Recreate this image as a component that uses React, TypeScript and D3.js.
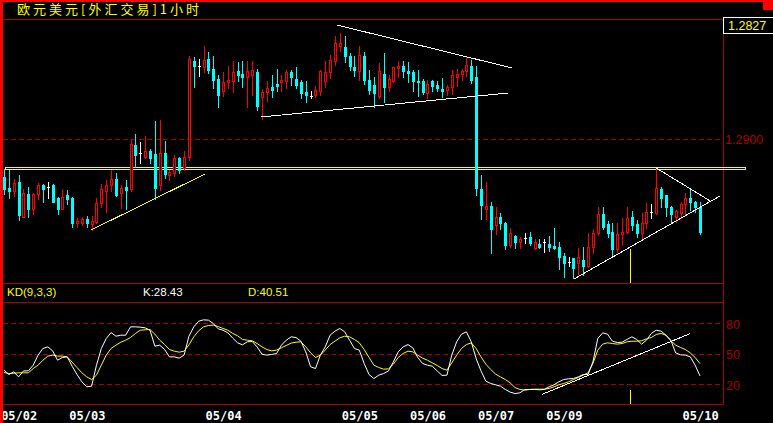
import React from "react";
import * as d3 from "d3";

const W = 773;
const H = 423;

const title = "欧元美元[外汇交易]1小时";
const lastPriceLabel = "1.2827";

// hourly candles
const openP = [
  1.2862, 1.2851, 1.2848, 1.2857, 1.2822, 1.2845, 1.2830, 1.2845, 1.2854, 1.2852,
  1.2854, 1.2841, 1.2830, 1.2844, 1.2841, 1.2816, 1.2816, 1.2820, 1.2815, 1.2817,
  1.2836, 1.2848, 1.2854, 1.2860, 1.2846, 1.2852, 1.2850, 1.2894, 1.2886, 1.2882,
  1.2888, 1.2885, 1.2854, 1.2886, 1.2864, 1.2866, 1.2881, 1.2871, 1.2882, 1.2978,
  1.2973, 1.2972, 1.2980, 1.2970, 1.2960, 1.2948, 1.2957, 1.2958, 1.2968, 1.2965,
  1.2962, 1.2964, 1.2967, 1.2942, 1.2947, 1.2952, 1.2955, 1.2957, 1.2958, 1.2967,
  1.2960, 1.2957, 1.2947, 1.2943, 1.2944, 1.2948, 1.2958, 1.2967, 1.2978, 1.2993,
  1.2992, 1.2983, 1.2972, 1.2968, 1.2983, 1.2959, 1.2954, 1.2943, 1.2965, 1.2952,
  1.2958, 1.2971, 1.2973, 1.2968, 1.2967, 1.2958, 1.2958, 1.2946, 1.2958, 1.2954,
  1.2950, 1.2949, 1.2952, 1.2962, 1.2965, 1.2968, 1.2973, 1.2962, 1.2850, 1.2830,
  1.2833, 1.2814, 1.2822, 1.2816, 1.2794, 1.2803, 1.2797, 1.2801, 1.2802, 1.2791,
  1.2795, 1.2797, 1.2795, 1.2793, 1.2792, 1.2783, 1.2777, 1.2781, 1.2776, 1.2779,
  1.2773, 1.2792, 1.2806, 1.2825, 1.2815, 1.2807, 1.2790, 1.2805, 1.2807, 1.2822,
  1.2815, 1.2806, 1.2816, 1.2827, 1.2826, 1.2850, 1.2844, 1.2832, 1.2822, 1.2826,
  1.2835, 1.2841, 1.2837, 1.2832,
];
const highP = [
  1.2870, 1.2869, 1.2860, 1.2864, 1.2850, 1.2852, 1.2846, 1.2856, 1.2855, 1.2857,
  1.2855, 1.2842, 1.2850, 1.2849, 1.2842, 1.2821, 1.2822, 1.2823, 1.2823, 1.2841,
  1.2855, 1.2859, 1.2869, 1.2866, 1.2854, 1.2859, 1.2900, 1.2905, 1.2897, 1.2903,
  1.2890, 1.2918, 1.2919, 1.2898, 1.2869, 1.2884, 1.2882, 1.2888, 1.2983, 1.2982,
  1.2980, 1.2993, 1.2987, 1.2983, 1.2964, 1.2967, 1.2973, 1.2978, 1.2977, 1.2978,
  1.2978, 1.2978, 1.2970, 1.2950, 1.2958, 1.2964, 1.2970, 1.2964, 1.2969, 1.2969,
  1.2972, 1.2959, 1.2958, 1.2948, 1.2953, 1.2969, 1.2978, 1.2984, 1.3003, 1.3006,
  1.3003, 1.2986, 1.2983, 1.2993, 1.2987, 1.2969, 1.2962, 1.2976, 1.2986, 1.2964,
  1.2972, 1.2978, 1.2978, 1.2977, 1.2969, 1.2969, 1.2960, 1.2959, 1.2959, 1.2958,
  1.2961, 1.2954, 1.2969, 1.2970, 1.2970, 1.2982, 1.2979, 1.2973, 1.2864, 1.2857,
  1.2837, 1.2832, 1.2826, 1.2817, 1.2811, 1.2804, 1.2802, 1.2806, 1.2807, 1.2800,
  1.2800, 1.2800, 1.2803, 1.2811, 1.2797, 1.2786, 1.2782, 1.2781, 1.2791, 1.2792,
  1.2806, 1.2810, 1.2832, 1.2832, 1.2818, 1.2816, 1.2816, 1.2821, 1.2832, 1.2828,
  1.2819, 1.2826, 1.2836, 1.2835, 1.2871, 1.2852, 1.2844, 1.2833, 1.2829, 1.2837,
  1.2846, 1.2850, 1.2838, 1.2837,
];
const lowP = [
  1.2845, 1.2841, 1.2843, 1.2819, 1.2822, 1.2822, 1.2825, 1.2840, 1.2837, 1.2841,
  1.2837, 1.2825, 1.2830, 1.2835, 1.2812, 1.2812, 1.2814, 1.2812, 1.2809, 1.2816,
  1.2832, 1.2827, 1.2848, 1.2843, 1.2831, 1.2830, 1.2848, 1.2872, 1.2876, 1.2881,
  1.2876, 1.2840, 1.2849, 1.2861, 1.2859, 1.2863, 1.2866, 1.2869, 1.2879, 1.2952,
  1.2963, 1.2967, 1.2966, 1.2951, 1.2932, 1.2943, 1.2951, 1.2947, 1.2958, 1.2952,
  1.2932, 1.2944, 1.2929, 1.2920, 1.2938, 1.2942, 1.2948, 1.2948, 1.2951, 1.2954,
  1.2951, 1.2941, 1.2937, 1.2941, 1.2942, 1.2944, 1.2952, 1.2961, 1.2974, 1.2988,
  1.2977, 1.2969, 1.2963, 1.2959, 1.2955, 1.2945, 1.2932, 1.2941, 1.2937, 1.2948,
  1.2957, 1.2962, 1.2962, 1.2957, 1.2948, 1.2943, 1.2945, 1.2941, 1.2948, 1.2948,
  1.2942, 1.2944, 1.2945, 1.2953, 1.2959, 1.2963, 1.2956, 1.2844, 1.2820, 1.2820,
  1.2786, 1.2805, 1.2810, 1.2790, 1.2792, 1.2791, 1.2791, 1.2796, 1.2794, 1.2790,
  1.2791, 1.2787, 1.2788, 1.2790, 1.2770, 1.2762, 1.2773, 1.2761, 1.2765, 1.2764,
  1.2772, 1.2786, 1.2804, 1.2810, 1.2802, 1.2782, 1.2787, 1.2794, 1.2806, 1.2809,
  1.2802, 1.2799, 1.2811, 1.2821, 1.2825, 1.2832, 1.2823, 1.2817, 1.2817, 1.2821,
  1.2825, 1.2829, 1.2827, 1.2805,
];
const closeP = [
  1.2850, 1.2848, 1.2856, 1.2824, 1.2846, 1.2830, 1.2845, 1.2854, 1.2850, 1.2852,
  1.2837, 1.2830, 1.2842, 1.2840, 1.2816, 1.2818, 1.2820, 1.2816, 1.2818, 1.2836,
  1.2850, 1.2854, 1.2860, 1.2844, 1.2851, 1.2849, 1.2895, 1.2884, 1.2886, 1.2888,
  1.2881, 1.2851, 1.2886, 1.2865, 1.2867, 1.2881, 1.2869, 1.2882, 1.2980, 1.2973,
  1.2973, 1.2979, 1.2969, 1.2959, 1.2944, 1.2957, 1.2959, 1.2967, 1.2964, 1.2962,
  1.2968, 1.2969, 1.2933, 1.2947, 1.2951, 1.2949, 1.2953, 1.2959, 1.2967, 1.2962,
  1.2954, 1.2946, 1.2944, 1.2943, 1.2949, 1.2968, 1.2967, 1.2979, 1.2996, 1.2996,
  1.2983, 1.2973, 1.2969, 1.2984, 1.2959, 1.2949, 1.2946, 1.2968, 1.2952, 1.2960,
  1.2972, 1.2973, 1.2968, 1.2966, 1.2958, 1.2957, 1.2947, 1.2955, 1.2953, 1.2951,
  1.2948, 1.2952, 1.2964, 1.2965, 1.2968, 1.2974, 1.2959, 1.2851, 1.2834, 1.2833,
  1.2810, 1.2822, 1.2816, 1.2794, 1.2806, 1.2797, 1.2800, 1.2801, 1.2796, 1.2797,
  1.2792, 1.2797, 1.2792, 1.2791, 1.2782, 1.2776, 1.2777, 1.2771, 1.2782, 1.2773,
  1.2792, 1.2806, 1.2825, 1.2812, 1.2806, 1.2790, 1.2805, 1.2807, 1.2821, 1.2814,
  1.2806, 1.2816, 1.2827, 1.2827, 1.2851, 1.2841, 1.2832, 1.2825, 1.2828, 1.2835,
  1.2841, 1.2837, 1.2832, 1.2807,
];

// KD(9,3,3)
const kValues = [
  34.1, 29.8, 32.5, 27.5, 33.4, 33.4, 39.0, 48.9, 55.4, 57.0,
  53.1, 43.9, 46.6, 47.2, 38.0, 29.8, 22.6, 17.7, 18.4, 39.0,
  55.4, 65.2, 71.1, 67.5, 68.5, 68.5, 76.7, 76.7, 76.4, 75.7,
  73.4, 57.7, 58.7, 54.4, 47.2, 47.2, 45.9, 48.9, 67.5, 76.7,
  82.3, 83.6, 83.3, 80.0, 74.8, 73.4, 70.8, 65.6, 61.0, 59.0,
  62.0, 62.3, 57.0, 49.8, 48.9, 49.5, 50.5, 58.7, 63.6, 66.9,
  66.2, 62.6, 52.1, 37.4, 35.7, 48.9, 57.0, 68.5, 72.5, 75.1,
  71.8, 63.6, 55.4, 53.8, 40.7, 29.8, 25.9, 29.2, 30.8, 33.4,
  42.3, 52.1, 57.0, 59.3, 56.0, 46.6, 40.7, 39.0, 38.0, 33.4,
  28.9, 29.2, 48.9, 62.0, 69.5, 71.8, 62.0, 45.6, 33.4, 23.3,
  21.0, 19.7, 18.4, 15.1, 12.5, 11.1, 11.8, 15.1, 15.1, 15.1,
  14.8, 15.1, 17.7, 19.7, 22.6, 24.9, 25.6, 25.9, 27.5, 29.8,
  29.8, 42.3, 65.2, 70.8, 69.5, 62.6, 61.3, 61.6, 64.3, 66.9,
  64.3, 59.7, 63.6, 70.2, 73.4, 72.5, 68.5, 63.6, 51.1, 49.2,
  48.9, 47.2, 39.0, 28.43,
];
const dValues = [
  31.8, 30.8, 31.1, 31.5, 31.5, 31.5, 35.7, 39.0, 43.9, 47.9,
  48.9, 47.9, 47.9, 47.2, 42.0, 36.7, 31.5, 27.5, 24.9, 29.2,
  39.0, 48.9, 55.4, 58.7, 61.6, 63.6, 66.2, 70.2, 73.4, 73.8,
  74.1, 69.5, 63.6, 59.3, 54.4, 52.8, 51.8, 52.8, 59.0, 66.9,
  72.8, 76.7, 78.0, 78.4, 77.0, 75.1, 73.4, 70.2, 67.9, 64.3,
  63.6, 63.0, 60.3, 57.0, 54.4, 53.1, 53.8, 56.1, 58.4, 60.7,
  61.6, 62.0, 57.0, 51.1, 46.6, 48.9, 53.8, 59.3, 62.6, 65.9,
  67.5, 66.9, 64.3, 61.0, 54.4, 46.6, 39.0, 36.7, 35.1, 35.4,
  40.0, 46.6, 50.5, 52.8, 52.1, 48.9, 45.9, 43.9, 41.3, 38.7,
  35.7, 34.1, 41.3, 48.9, 55.4, 59.3, 60.9, 55.4, 47.2, 40.0,
  34.8, 30.2, 27.5, 24.9, 21.6, 17.0, 15.1, 14.4, 15.1, 15.4,
  15.4, 15.4, 16.1, 17.7, 19.7, 21.0, 22.6, 24.9, 26.9, 29.2,
  31.5, 40.7, 53.8, 59.7, 61.0, 60.3, 59.7, 60.3, 62.0, 62.6,
  62.6, 63.0, 64.9, 66.2, 69.2, 70.2, 68.5, 63.0, 58.7, 56.4,
  54.4, 51.1, 46.6, 40.51,
];

const tickIndex = [-1, 13, 41, 69, 83, 97, 111, 139];
const tickLabels = ["05/02", "05/03", "05/04", "05/05", "05/06", "05/07", "05/09", "05/10"];
const priceTicks = [1.29];
const kdTicks = [80, 50, 20];

// drawn trend lines: [index1, price1, index2, price2]
const yellowTrend = [[17.9, 1.2809, 41.3, 1.2865]];
const whiteTrends = [
  [68.4, 1.3014, 104.4, 1.2971],
  [52.8, 1.2922, 103.6, 1.2946],
  [117.1, 1.2760, 147.1, 1.2843],
  [134.0, 1.2871, 145.1, 1.2838],
];
const kdTrend = [110.5, 10.2, 141.0, 70.1];
const levelLine = { price: 1.2872, i1: 0.2, i2: 152.3 };
const markerIndex = 128.6;
const markerPrice = 1.279;
const markerKD = 14.4;

const RED = "#ff0000";
const CYAN = "#00ffff";
const YEL = "#ffff00";
const DARK = "#a80000";

export default function App() {
  const n = openP.length;
  const x = d3.scaleLinear().domain([0, n - 1]).range([4, 700]);
  const y = d3.scaleLinear().domain([1.29, 1.28]).range([139, 239]);
  const kd = d3.scaleLinear().domain([20, 80]).range([384.5, 323.5]);

  const plotRight = 723;
  const mainBottom = 283;
  const kdTop = 302;
  const kdBottom = 404;

  const kLine = d3
    .line<number>()
    .x((_, i) => x(i))
    .y((v) => kd(v));

  const candles = openP.map((o, i) => {
    const c = closeP[i];
    const cx = Math.round(x(i));
    const yo = Math.round(y(o));
    const yc = Math.round(y(c));
    const yh = Math.round(y(highP[i]));
    const yl = Math.round(y(lowP[i]));
    const top = Math.min(yo, yc);
    const bot = Math.max(yo, yc);
    if (c > o) {
      return (
        <g key={i}>
          <line x1={cx + 0.5} x2={cx + 0.5} y1={yh} y2={yl + 1} stroke={RED} />
          <rect x={cx - 0.5} y={top + 0.5} width={2} height={Math.max(1, bot - top)} fill="#000" stroke={RED} />
        </g>
      );
    }
    if (c < o) {
      return (
        <g key={i}>
          <line x1={cx + 0.5} x2={cx + 0.5} y1={yh} y2={yl + 1} stroke={CYAN} />
          <rect x={cx - 1} y={top} width={3} height={bot - top + 1} fill={CYAN} />
        </g>
      );
    }
    return (
      <g key={i}>
        <line x1={cx + 0.5} x2={cx + 0.5} y1={yh} y2={yl + 1} stroke="#fff" />
        <line x1={cx - 1} x2={cx + 2} y1={yo + 0.5} y2={yo + 0.5} stroke="#fff" />
      </g>
    );
  });

  const sans = "'Liberation Sans', Arial, sans-serif";
  const kLast = kValues[kValues.length - 1];
  const dLast = dValues[dValues.length - 1];

  return (
    <svg
      width={W}
      height={H}
      viewBox={`0 0 ${W} ${H}`}
      style={{ position: "absolute", left: 0, top: 0, display: "block", background: "#000" }}
      shapeRendering="crispEdges"
    >
      <rect x={0} y={0} width={W} height={H} fill="#000" />

      {/* frame lines */}
      <line x1={3} x2={plotRight} y1={19.5} y2={19.5} stroke={DARK} />
      <line x1={plotRight + 0.5} x2={plotRight + 0.5} y1={19} y2={kdBottom + 1} stroke={DARK} />
      <line x1={3} x2={plotRight} y1={mainBottom + 0.5} y2={mainBottom + 0.5} stroke={DARK} />
      <line x1={3} x2={plotRight} y1={kdTop + 0.5} y2={kdTop + 0.5} stroke={DARK} />
      <line x1={3} x2={plotRight} y1={kdBottom + 0.5} y2={kdBottom + 0.5} stroke={DARK} />

      {/* price grid */}
      {priceTicks.map((p) => (
        <g key={p}>
          <line
            x1={3}
            x2={plotRight}
            y1={Math.round(y(p)) + 0.5}
            y2={Math.round(y(p)) + 0.5}
            stroke={DARK}
            strokeDasharray="5,3"
          />
          <text x={725} y={Math.round(y(p)) + 5} fill={DARK} fontSize={12.5} fontFamily={sans}>
            {p.toFixed(4)}
          </text>
        </g>
      ))}

      {/* KD grid */}
      {kdTicks.map((v) => (
        <g key={v}>
          <line
            x1={3}
            x2={plotRight}
            y1={Math.round(kd(v) - 0.5) + 0.5}
            y2={Math.round(kd(v) - 0.5) + 0.5}
            stroke={DARK}
            strokeDasharray="5,3"
          />
          <text x={726} y={Math.round(kd(v)) + 5} fill={DARK} fontSize={12.5} fontFamily={sans}>
            {v}
          </text>
        </g>
      ))}

      {/* level double line */}
      <rect
        x={Math.round(x(levelLine.i1)) + 0.5}
        y={Math.round(y(levelLine.price)) + 0.5}
        width={Math.round(x(levelLine.i2)) - Math.round(x(levelLine.i1))}
        height={2}
        fill="none"
        stroke={YEL}
      />

      {/* candles */}
      {candles}

      {/* trend lines */}
      {yellowTrend.map((t, k) => (
        <line key={"y" + k} x1={x(t[0])} y1={y(t[1])} x2={x(t[2])} y2={y(t[3])} stroke={YEL} />
      ))}
      {whiteTrends.map((t, k) => (
        <line key={"w" + k} x1={x(t[0])} y1={y(t[1])} x2={x(t[2])} y2={y(t[3])} stroke="#fff" />
      ))}

      {/* marker */}
      <line
        x1={Math.round(x(markerIndex)) + 0.5}
        x2={Math.round(x(markerIndex)) + 0.5}
        y1={y(markerPrice)}
        y2={mainBottom}
        stroke={YEL}
      />
      <line
        x1={Math.round(x(markerIndex)) + 0.5}
        x2={Math.round(x(markerIndex)) + 0.5}
        y1={kd(markerKD)}
        y2={kdBottom}
        stroke={YEL}
      />

      {/* KD lines */}
      <path d={kLine(dValues) || ""} fill="none" stroke={YEL} strokeWidth={1} shapeRendering="auto" />
      <path d={kLine(kValues) || ""} fill="none" stroke="#fff" strokeWidth={1} shapeRendering="auto" />
      <line x1={x(kdTrend[0])} y1={kd(kdTrend[1])} x2={x(kdTrend[2])} y2={kd(kdTrend[3])} stroke="#fff" />

      {/* KD labels */}
      <text x={7} y={296} fill={YEL} fontSize={11.5} fontFamily={sans}>
        KD(9,3,3)
      </text>
      <text x={143} y={296} fill="#fff" fontSize={11.5} fontFamily={sans}>
        {"K:" + kLast.toFixed(2)}
      </text>
      <text x={248} y={296} fill={YEL} fontSize={11.5} fontFamily={sans}>
        {"D:" + dLast.toFixed(2)}
      </text>

      {/* x labels */}
      {tickIndex.map((ti, k) => (
        <text
          key={ti}
          x={x(ti) + 2}
          y={420}
          fill="#fff"
          fontSize={12}
          fontWeight="bold"
          fontFamily="'DejaVu Sans Mono', monospace"
        >
          {tickLabels[k]}
        </text>
      ))}

      {/* last price box */}
      <rect x={plotRight + 0.5} y={17.5} width={60} height={16} fill="#000" stroke="#fff" />
      <text x={728} y={30} fill={YEL} fontSize={12.5} fontFamily={sans}>
        {lastPriceLabel}
      </text>

      {/* title */}
      <text x={17} y={14} fill={YEL} fontSize={13} letterSpacing={3} fontFamily="'Noto Sans CJK SC', sans-serif">
        {title}
      </text>

      {/* red borders */}
      <rect x={0} y={0} width={W} height={2} fill={RED} />
      <rect x={0} y={0} width={3} height={H} fill={RED} />
      <rect x={763} y={0} width={10} height={10} fill={RED} />
    </svg>
  );
}
